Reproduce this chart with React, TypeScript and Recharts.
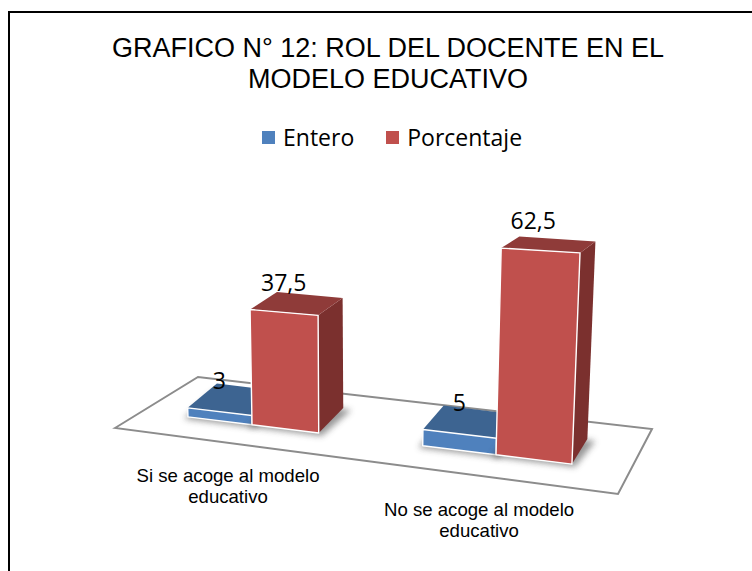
// Perspective bar chart: role of the teacher in the educational model

import { BarChart, Bar, XAxis, YAxis, Legend, LabelList } from "recharts";

const categories = ["Si se acoge al modelo educativo", "No se acoge al modelo educativo"];
const entero = [3, 5];
const porcentaje = [37.5, 62.5];

const tickLines: Record<string, string[]> = {
  "Si se acoge al modelo educativo": ["Si se acoge al modelo", "educativo"],
  "No se acoge al modelo educativo": ["No se acoge al modelo", "educativo"],
};

const data = categories.map((name, i) => ({
  name,
  Entero: entero[i],
  Porcentaje: porcentaje[i],
}));

const COLORS = {
  blue: "#4f81bd",
  blueTop: "#3d6491",
  blueSide: "#2f4d70",
  red: "#c0504d",
  redTop: "#8f3b39",
  redSide: "#7b302e",
};

const SANS = "'Liberation Sans', Arial, sans-serif";
const LABEL_FONT = "'Open Sans', sans-serif";

// turns a point of the flat plot (x in px, h = px above the axis) into the tilted view
function project(p: number, h: number, back = false): [number, number] {
  const sx = p + 0.00027 * (p - 370) * (p - 370);
  const base = 417 + 0.123 * (sx - 189);
  const hs = h * (1 + 0.0003 * (sx - 385));
  const x = sx + hs * 0.000172 * (sx - 350);
  const y = base - hs;
  if (!back) return [x, y];
  return [x + 27 - 0.036 * (sx - 250), y - (25 - 0.065 * hs)];
}

const pts = (list: [number, number][]) => list.map((q) => q.join(",")).join(" ");

function Box3D({ x, width, height, fill, top, side }: any) {
  const l = x;
  const r = x + width;
  const fl0 = project(l, 0);
  const fr0 = project(r, 0);
  const fl1 = project(l, height);
  const fr1 = project(r, height);
  const bl0 = project(l, 0, true);
  const br0 = project(r, 0, true);
  const bl1 = project(l, height, true);
  const br1 = project(r, height, true);
  const shadow: [number, number][] = [
    [fl0[0] - 4, fl0[1] + 2],
    [fr0[0] + 3, fr0[1] + 3],
    [br0[0] + 8, br0[1] + 2],
    [bl0[0] - 4, bl0[1]],
  ];
  return (
    <g>
      <polygon points={pts(shadow)} fill="#444" opacity={0.55} filter="url(#floorShadow)" />
      <polygon points={pts([fr0, br0, br1, fr1])} fill={side} />
      <polygon points={pts([fl1, fr1, br1, bl1])} fill={top} />
      <polygon points={pts([fl0, fr0, fr1, fl1])} fill={fill} stroke="#fff" strokeWidth={1.4} strokeLinejoin="round" />
    </g>
  );
}

function BlueBar(props: any) {
  return <Box3D {...props} fill={COLORS.blue} top={COLORS.blueTop} side={COLORS.blueSide} />;
}

function RedBar(props: any) {
  return <Box3D {...props} fill={COLORS.red} top={COLORS.redTop} side={COLORS.redSide} />;
}

function BarValue({ x, width, height, value }: any) {
  const [cx, cy] = project(x + width / 2, height);
  const shift = cx > 500 ? -7 : 0;
  return (
    <text
      x={cx + shift}
      y={cy - (height > 50 ? 21 : 23)}
      textAnchor="middle"
      fontFamily={LABEL_FONT}
      fontSize={23}
      fill="#000"
    >
      {String(value).replace(".", ",")}
    </text>
  );
}

function CategoryTick({ x, payload }: any) {
  const [bx, by] = project(x, 0);
  const lx = bx - 24 + (bx - 252) * 0.029;
  const ly = by + 57 + (bx - 252) * 0.016;
  const lines = tickLines[payload.value] ?? [payload.value];
  return (
    <text textAnchor="middle" fontFamily={SANS} fontSize={18.6} fill="#000">
      {lines.map((line, i) => (
        <tspan key={line} x={lx} y={ly + i * 21.5}>
          {line}
        </tspan>
      ))}
    </text>
  );
}

function LegendRow({ payload }: any) {
  return (
    <div style={{ display: "flex", justifyContent: "flex-start", paddingLeft: 262 }}>
      {(payload ?? []).map((item: any) => (
        <div
          key={item.value}
          style={{ display: "flex", alignItems: "center", marginRight: 32, height: 30 }}
        >
          <span
            style={{ width: 13, height: 13, background: item.color, marginRight: 8, display: "block" }}
          />
          <span style={{ fontFamily: LABEL_FONT, fontSize: 23, color: "#000", lineHeight: "30px" }}>
            {item.value}
          </span>
        </div>
      ))}
    </div>
  );
}

export default function App() {
  return (
    <div style={{ position: "absolute", left: 0, top: 0, width: 752, height: 571, overflow: "hidden", background: "#fff" }}>
      {/* frame, title and floor sit under the chart */}
      <svg width={752} height={571} style={{ position: "absolute", left: 0, top: 0 }}>
        <path d="M9 571 V12 H752" fill="none" stroke="#000" strokeWidth={2} />
        <text textAnchor="middle" fontFamily={SANS} fontSize={27} fill="#000">
          <tspan x={388} y={57}>GRAFICO N° 12: ROL DEL DOCENTE EN EL</tspan>
          <tspan x={388} y={88}>MODELO EDUCATIVO</tspan>
        </text>
        <polygon
          points="115,428 198,377 652,429 618,494"
          fill="#fff"
          stroke="#8c8c8c"
          strokeWidth={2}
        />
      </svg>
      <div style={{ position: "absolute", left: 0, top: 0 }}>
        <BarChart
          width={752}
          height={571}
          data={data}
          barSize={70}
          barGap={0}
          margin={{ top: 100, right: 138, bottom: 217, left: 126 }}
        >
          <defs>
            <filter id="floorShadow" x="-30%" y="-60%" width="160%" height="220%">
              <feGaussianBlur stdDeviation="3" />
            </filter>
          </defs>
          <XAxis dataKey="name" height={30} axisLine={false} tickLine={false} tick={CategoryTick} interval={0} />
          <YAxis hide domain={[0, 70]} />
          <Legend
            layout="horizontal"
            verticalAlign="middle"
            align="center"
            content={LegendRow}
            wrapperStyle={{ top: 122, left: 0, width: 752 }}
          />
          <Bar dataKey="Entero" fill={COLORS.blue} shape={BlueBar} isAnimationActive={false}>
            <LabelList dataKey="Entero" content={BarValue} />
          </Bar>
          <Bar dataKey="Porcentaje" fill={COLORS.red} shape={RedBar} isAnimationActive={false}>
            <LabelList dataKey="Porcentaje" content={BarValue} />
          </Bar>
        </BarChart>
      </div>
    </div>
  );
}
